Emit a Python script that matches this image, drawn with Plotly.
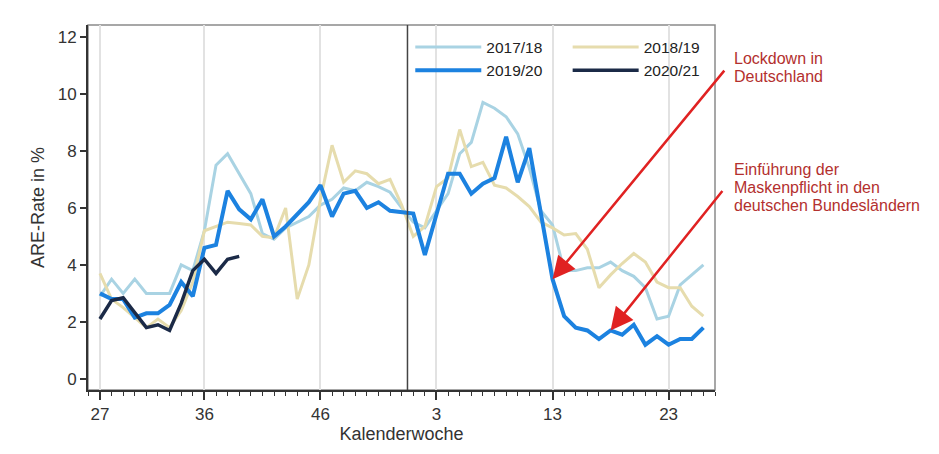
import plotly.graph_objects as go

# calendar weeks of a season (week 27 .. week 26, incl. week 53)
weeks = [27, 28, 29, 30, 31, 32, 33, 34, 35, 36, 37, 38, 39, 40, 41, 42, 43, 44,
         45, 46, 47, 48, 49, 50, 51, 52, 53, 1, 2, 3, 4, 5, 6, 7, 8, 9, 10, 11, 12,
         13, 14, 15, 16, 17, 18, 19, 20, 21, 22, 23, 24, 25, 26]
pos = list(range(len(weeks)))

s1718 = [2.9, 3.5, 3.0, 3.5, 3.0, 3.0, 3.0, 4.0, 3.8, 5.2, 7.5, 7.9, 7.2, 6.5,
         5.1, 4.9, 5.3, 5.5, 5.7, 6.1, 6.3, 6.7, 6.6, 6.9, 6.75, 6.55, 6.0, 5.5,
         5.3, 5.9, 6.5, 7.9, 8.3, 9.7, 9.5, 9.2, 8.6, 7.4, 5.9, 5.4, 3.8, 3.8,
         3.9, 3.9, 4.1, 3.8, 3.6, 3.2, 2.1, 2.2, 3.3, 3.65, 4.0]
s1819 = [3.7, 2.8, 2.5, 2.15, 1.8, 2.1, 1.8, 2.4, 3.4, 5.2, 5.35, 5.5, 5.45, 5.4,
         5.0, 4.95, 6.0, 2.8, 4.0, 6.3, 8.2, 6.9, 7.3, 7.2, 6.85, 7.0, 6.1, 5.0,
         5.35, 6.75, 7.05, 8.75, 7.45, 7.6, 6.8, 6.7, 6.4, 6.05, 5.5, 5.3, 5.05,
         5.1, 4.55, 3.2, 3.65, 4.05, 4.4, 4.1, 3.4, 3.2, 3.2, 2.55, 2.2]
s1920 = [3.0, 2.8, 2.8, 2.15, 2.3, 2.3, 2.6, 3.4, 2.9, 4.6, 4.7, 6.6, 5.95, 5.6,
         6.3, 5.0, 5.35, 5.8, 6.2, 6.8, 5.7, 6.5, 6.6, 6.0, 6.2, 5.9, 5.85, 5.8,
         4.35, 5.8, 7.2, 7.2, 6.5, 6.85, 7.05, 8.5, 6.9, 8.1, 5.8, 3.5, 2.2, 1.8,
         1.7, 1.4, 1.7, 1.55, 1.9, 1.2, 1.5, 1.2, 1.4, 1.4, 1.8]
s2021 = [2.1, 2.75, 2.85, 2.3, 1.8, 1.9, 1.7, 2.65, 3.8, 4.2, 3.7, 4.2, 4.3]

tick_weeks = [27, 36, 46, 3, 13, 23]
tick_pos = [weeks.index(w) for w in tick_weeks]

font = "Liberation Sans, Arial, sans-serif"

fig = go.Figure()
fig.add_trace(go.Scatter(x=pos, y=s1718, mode="lines", name="2017/18",
                         line=dict(color="#a9d3e3", width=3), legend="legend"))
fig.add_trace(go.Scatter(x=pos, y=s1819, mode="lines", name="2018/19",
                         line=dict(color="#e6dcad", width=3), legend="legend2"))
fig.add_trace(go.Scatter(x=pos, y=s1920, mode="lines", name="2019/20",
                         line=dict(color="#1c82e0", width=4), legend="legend"))
fig.add_trace(go.Scatter(x=pos[:len(s2021)], y=s2021, mode="lines", name="2020/21",
                         line=dict(color="#1b2a47", width=3.5), legend="legend2"))

# turn of the year
fig.add_shape(type="line", xref="x", yref="paper", x0=26.5, x1=26.5, y0=0, y1=1,
              line=dict(color="#444", width=1.5))
# grey top/right frame
fig.add_shape(type="rect", xref="paper", yref="paper", x0=0, x1=1, y0=0, y1=1,
              line=dict(color="#8a8a8a", width=1.5), layer="below")

red_txt = "#b3302e"
lines1 = ["Lockdown in", "Deutschland"]
lines2 = ["Einführung der", "Maskenpflicht in den", "deutschen Bundesländern"]
for k, t in enumerate(lines1):
    fig.add_annotation(xref="paper", yref="paper", x=1.027, y=0.907 - k * 0.049,
                       text=t, showarrow=False, xanchor="left", yanchor="middle",
                       font=dict(family=font, size=16, color=red_txt))
for k, t in enumerate(lines2):
    fig.add_annotation(xref="paper", yref="paper", x=1.027, y=0.603 - k * 0.049,
                       text=t, showarrow=False, xanchor="left", yanchor="middle",
                       font=dict(family=font, size=16, color=red_txt))

# arrows pointing at the 2019/20 curve
for w, ax, ay in [(13, 173, -210), (18, 113, -141)]:
    i = weeks.index(w)
    fig.add_annotation(x=i, y=s1920[i], xref="x", yref="y", text="", showarrow=True,
                       ax=ax, ay=ay, arrowhead=2, arrowsize=1.8, arrowwidth=2.5,
                       arrowcolor="#e02222")

legend_style = dict(font=dict(family=font, size=15.5, color="#222"), bgcolor="rgba(0,0,0,0)",
                    itemwidth=66, tracegroupgap=0, xanchor="left", yanchor="top",
                    traceorder="normal")
fig.update_layout(
    width=939, height=454,
    margin=dict(l=88, r=224, t=25, b=64),
    paper_bgcolor="white", plot_bgcolor="white",
    font=dict(family=font, color="#333"),
    legend=dict(x=0.514, y=0.985, **legend_style),
    legend2=dict(x=0.765, y=0.985, **legend_style),
    xaxis=dict(range=[-1.03, 53.0], tickvals=tick_pos, ticktext=[str(w) for w in tick_weeks],
               showgrid=True, gridcolor="#e2e2e2", gridwidth=1.5, zeroline=False,
               showline=True, linecolor="#333", linewidth=2,
               ticks="outside", ticklen=8, tickwidth=1.5, tickcolor="#333",
               tickfont=dict(size=17, color="#333"),
               minor=dict(dtick=1, tick0=0, ticks="outside", ticklen=4, tickwidth=1,
                          tickcolor="#333", showgrid=False),
               title=dict(text="Kalenderwoche", font=dict(size=18, color="#333"), standoff=2)),
    yaxis=dict(range=[-0.39, 12.42], tickvals=[0, 2, 4, 6, 8, 10, 12],
               showgrid=False, zeroline=False, automargin=False,
               showline=True, linecolor="#333", linewidth=2,
               ticks="outside", ticklen=6, tickwidth=1.5, tickcolor="#333",
               tickfont=dict(size=17, color="#333"),
               title=dict(text="ARE-Rate in %", font=dict(size=18, color="#333"), standoff=8)),
)

# the page body has a default 8px margin; drop it so the figure sits at the origin
fig.write_html("out.html", config={"displayModeBar": False},
               post_script="document.body.style.margin='0';")
